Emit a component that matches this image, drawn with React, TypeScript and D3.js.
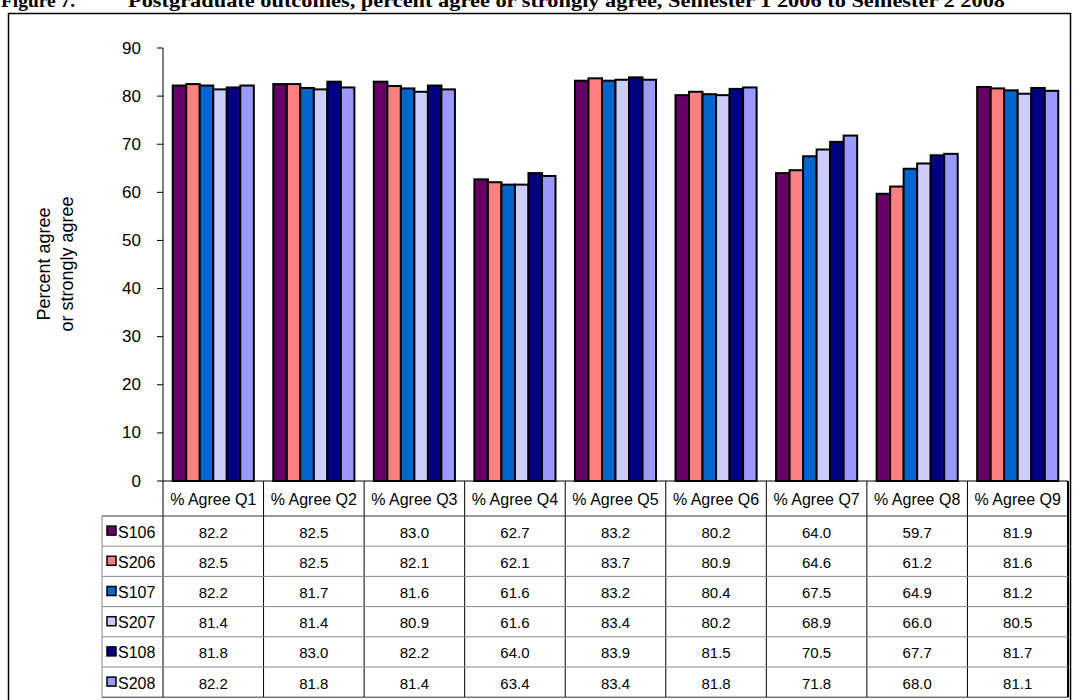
import React from "react"
import * as d3 from "d3"

// ---------- Data ----------
const categories = ["% Agree Q1", "% Agree Q2", "% Agree Q3", "% Agree Q4", "% Agree Q5", "% Agree Q6", "% Agree Q7", "% Agree Q8", "% Agree Q9"]
const seriesNames = ["S106", "S206", "S107", "S207", "S108", "S208"]
const seriesColors = ["#660066", "#FF8080", "#0066CC", "#CCCCFF", "#000080", "#9999FF"]

const s106 = [82.2, 82.5, 83.0, 62.7, 83.2, 80.2, 64.0, 59.7, 81.9]
const s206 = [82.5, 82.5, 82.1, 62.1, 83.7, 80.9, 64.6, 61.2, 81.6]
const s107 = [82.2, 81.7, 81.6, 61.6, 83.2, 80.4, 67.5, 64.9, 81.2]
const s207 = [81.4, 81.4, 80.9, 61.6, 83.4, 80.2, 68.9, 66.0, 80.5]
const s108 = [81.8, 83.0, 82.2, 64.0, 83.9, 81.5, 70.5, 67.7, 81.7]
const s208 = [82.2, 81.8, 81.4, 63.4, 83.4, 81.8, 71.8, 68.0, 81.1]
const seriesValues = [s106, s206, s107, s207, s108, s208]

const yTicks = [0, 10, 20, 30, 40, 50, 60, 70, 80, 90]

// ---------- Layout ----------
const W = 1073
const H = 700
const plotLeft = 163
const plotRight = 1068
const plotTop = 48
const plotBottom = 481
const catRowBottom = 516
const rowH = 30.2
const legendLeft = 102
const font = "'Liberation Sans', Arial, sans-serif"
const serif = "'Liberation Serif', 'Times New Roman', serif"

export default function App() {
    const x = d3.scaleBand<string>().domain(categories).range([plotLeft, plotRight]).paddingInner(0).paddingOuter(0)
    const xInner = d3.scaleBand<string>().domain(seriesNames).range([0, x.bandwidth()]).paddingInner(0).paddingOuter(0.72)
    const y = d3.scaleLinear().domain([0, 90]).range([plotBottom, plotTop])
    const tableBottom = catRowBottom + rowH * seriesNames.length

    return (
        <svg width={W} height={H} style={{ position: "absolute", left: 0, top: 0, display: "block", background: "#fff" }}>
            {/* title, clipped at the top of the page as in the source */}
            <text x={1} y={7} fontFamily={serif} fontWeight="bold" fontSize={19}
                textLength={74} lengthAdjust="spacingAndGlyphs">Figure 7.</text>
            <text x={128} y={7} fontFamily={serif} fontWeight="bold" fontSize={19}
                textLength={877} lengthAdjust="spacingAndGlyphs">
                Postgraduate outcomes, percent agree or strongly agree, Semester 1 2006 to Semester 2 2008
            </text>

            {/* outer frame */}
            <rect x={8.5} y={13.5} width={1062} height={H} fill="none" stroke="#000" strokeWidth={1.5} />

            {/* bars */}
            {categories.map((c, ci) => (
                <g key={c} transform={`translate(${x(c)},0)`}>
                    {seriesNames.map((s, si) => {
                        const v = seriesValues[si][ci]
                        return (
                            <rect key={s} x={xInner(s)} y={y(v)} width={xInner.bandwidth()} height={y(0) - y(v)}
                                fill={seriesColors[si]} stroke="#000" strokeWidth={2} />
                        )
                    })}
                </g>
            ))}

            {/* y axis */}
            <line x1={plotLeft} x2={plotLeft} y1={plotTop} y2={tableBottom} stroke="#000" strokeWidth={1} />
            {yTicks.map(t => (
                <g key={t}>
                    <line x1={plotLeft - 6} x2={plotLeft} y1={y(t)} y2={y(t)} stroke="#000" strokeWidth={1} />
                    <text x={141} y={y(t)} textAnchor="end" dominantBaseline="central" fontFamily={font} fontSize={17}>{t}</text>
                </g>
            ))}
            <text transform={`translate(44,264) rotate(-90)`} textAnchor="middle" dominantBaseline="central" fontFamily={font} fontSize={18}>Percent agree</text>
            <text transform={`translate(67,264) rotate(-90)`} textAnchor="middle" dominantBaseline="central" fontFamily={font} fontSize={18}>or strongly agree</text>

            {/* data table */}
            <line x1={plotLeft} x2={plotRight} y1={plotBottom} y2={plotBottom} stroke="#000" strokeWidth={1} />
            {categories.map((c, ci) => (
                <g key={c}>
                    {ci > 0 && <line x1={x(c)} x2={x(c)} y1={plotBottom} y2={tableBottom} stroke="#000" strokeWidth={1} />}
                    <text x={(x(c) ?? 0) + x.bandwidth() / 2} y={(plotBottom + catRowBottom) / 2 + 1} textAnchor="middle"
                        dominantBaseline="central" fontFamily={font} fontSize={16}>{c}</text>
                </g>
            ))}
            <line x1={plotRight} x2={plotRight} y1={plotBottom} y2={tableBottom} stroke="#000" strokeWidth={2} />
            {seriesNames.map((s, si) => {
                const top = catRowBottom + si * rowH
                const mid = top + rowH / 2
                return (
                    <g key={s}>
                        <line x1={legendLeft} x2={plotRight} y1={top} y2={top} stroke={si === 0 ? "#333" : "#888"} strokeWidth={1} />
                        <rect x={107} y={mid - 5} width={9} height={9} fill={seriesColors[si]} stroke="#000" strokeWidth={1.5} />
                        <text x={118} y={mid + 1} dominantBaseline="central" fontFamily={font} fontSize={16}>{s}</text>
                        {categories.map((c, ci) => (
                            <text key={c} x={(x(c) ?? 0) + x.bandwidth() / 2} y={mid + 1} textAnchor="middle"
                                dominantBaseline="central" fontFamily={font} fontSize={15}>
                                {seriesValues[si][ci].toFixed(1)}
                            </text>
                        ))}
                    </g>
                )
            })}
            <line x1={legendLeft} x2={plotRight} y1={tableBottom} y2={tableBottom} stroke="#333" strokeWidth={1} />
            <line x1={legendLeft} x2={legendLeft} y1={catRowBottom} y2={tableBottom} stroke="#888" strokeWidth={1} />
        </svg>
    )
}
